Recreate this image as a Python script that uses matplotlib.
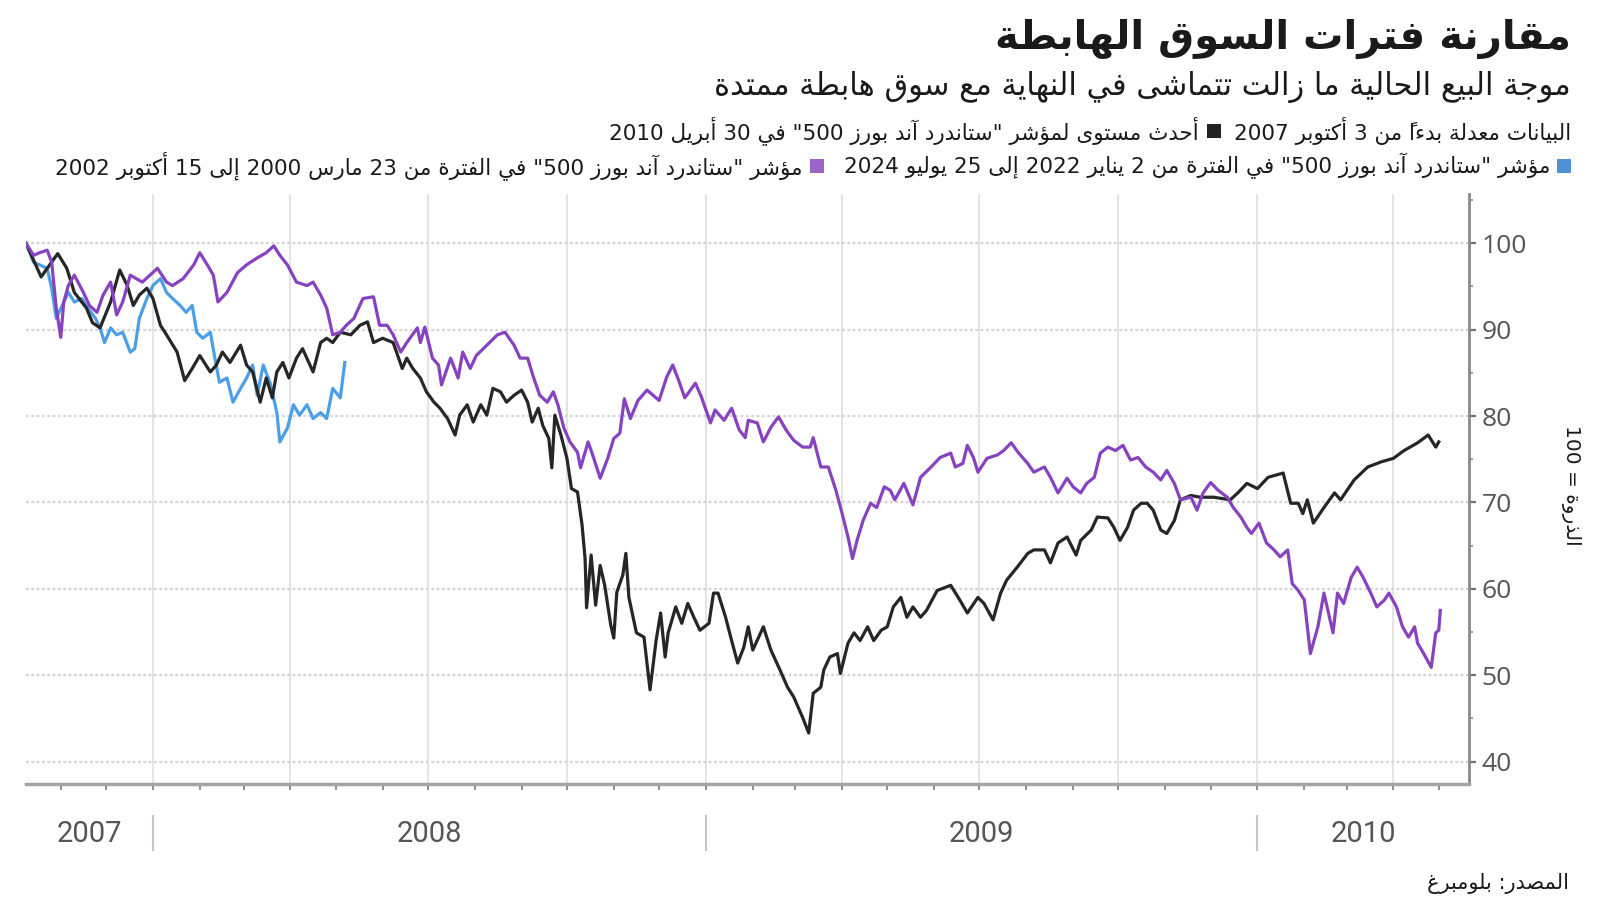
import re
import numpy as np
import matplotlib
matplotlib.use("Agg")
import matplotlib.pyplot as plt
import matplotlib.dates as mdates
from matplotlib.patches import Rectangle
from matplotlib.ticker import MultipleLocator, NullFormatter

# ---------------- data ----------------
peak_date = "2007-10-09"

black_days = [0,10,21,27,32,40,44,49,56,62,67,71,75,80,84,89,93,100,105,110,
              115,122,126,130,135,142,146,150,155,159,163,166,170,174,179,183,190,195,199,203,
              208,215,221,226,230,236,243,249,252,256,261,265,270,274,279,284,287,292,296,301,
              305,309,314,318,323,328,332,335,339,342,346,348,350,354,358,361,365,368,370,371,
              374,377,380,383,387,389,391,395,397,399,404,409,413,417,420,423,425,430,434,438,
              442,446,452,455,458,463,467,471,475,478,481,488,493,499,504,508,514,518,521,526,
              528,532,537,539,544,548,552,557,561,566,570,574,579,583,587,592,596,603,612,618,
              623,630,634,640,645,649,656,663,667,674,678,683,689,695,698,705,709,716,720,724,
              729,733,738,742,746,751,755,760,764,771,777,786,797,802,808,815,822,832,837,842,
              845,848,852,859,866,870,879,888,897,905,912,921,928,933,935]
black_vals = [100,96.1,98.8,97.1,94.3,92.5,90.8,90.2,93.2,96.9,95.1,92.8,94,94.8,93.6,90.5,89.4,87.4,84.1,85.5,
              87,85.1,85.9,87.4,86.2,88.2,85.9,85.1,81.6,84.4,82.1,85.1,86.2,84.4,86.7,87.8,85.1,88.5,89,88.5,
              89.7,89.4,90.5,90.9,88.5,89,88.5,85.5,86.7,85.5,84.4,82.8,81.6,80.9,79.7,77.8,80.1,81.3,79.3,81.3,
              80.1,83.2,82.8,81.6,82.4,83,81.6,79.3,80.9,78.9,77.4,74,80.1,77.8,75.1,71.6,71.2,67.4,63.5,57.8,
              63.9,58.1,62.7,60.4,55.8,54.3,59.6,61.6,64.1,59,54.9,54.4,48.3,54,57.2,52.1,54.9,57.9,56,58.3,
              56.7,55.2,56,59.5,59.5,56.7,54,51.4,53.2,55.6,52.9,55.6,52.9,50.6,48.6,47.5,45.1,43.3,47.9,48.6,
              50.6,52.1,52.5,50.2,53.7,54.9,54,55.6,54,55.2,55.6,57.9,59,56.7,57.9,56.7,57.5,59.8,60.4,58.7,
              57.2,59,58.3,56.4,59.5,61,62.5,64.1,64.5,64.5,63,65.3,66,63.9,65.6,66.8,68.3,68.2,67.1,65.6,
              67.1,69.1,69.9,69.9,69.1,66.8,66.4,67.9,70.3,70.8,70.6,70.6,70.3,71.1,72.2,71.6,72.9,73.4,69.9,69.9,
              68.7,70.3,67.6,69.4,71.1,70.3,72.6,74.1,74.7,75.1,76,76.9,77.8,76.4,77]

purple_days = [0,5,9,14,17,20,23,25,28,32,38,42,47,51,56,60,64,69,73,77,
               82,87,93,97,104,111,115,120,124,127,133,140,146,153,159,164,168,173,179,186,
               190,195,199,203,208,212,217,223,230,234,239,243,248,252,259,261,264,269,273,275,
               281,286,289,294,298,305,312,317,323,327,332,336,340,345,349,352,356,360,365,367,
               372,375,380,385,389,393,396,400,405,411,419,424,428,432,436,443,447,453,456,462,
               467,472,476,478,484,488,493,498,503,508,514,519,521,526,531,536,540,544,547,550,
               554,559,563,568,572,575,581,587,592,599,605,612,615,620,623,627,630,636,643,647,
               652,657,663,667,674,678,683,689,693,698,702,707,711,716,721,726,731,736,741,746,
               751,755,760,764,771,775,779,784,789,795,799,804,808,811,816,821,826,830,835,838,
               842,846,850,855,859,865,868,872,877,881,885,890,894,899,902,907,911,915,919,921,
               925,930,933,935,936]
purple_vals = [100,98.6,98.9,99.2,97.8,92.5,89.1,93.2,95.1,96.3,94.3,92.8,92,94,95.5,91.7,93.2,96.3,95.9,95.5,
               96.3,97.1,95.5,95.1,95.9,97.5,98.9,97.5,96.3,93.2,94.3,96.6,97.5,98.3,98.9,99.7,98.6,97.5,95.5,95.1,
               95.5,94,92.5,89.4,89.7,90.5,91.3,93.6,93.8,90.5,90.5,89.4,87.4,88.5,90.2,88.5,90.3,86.7,85.9,83.6,
               86.7,84.4,87.4,85.5,87,88.2,89.4,89.7,88.2,86.7,86.7,84.4,82.4,81.6,82.8,81.3,78.6,77,75.8,74,
               77,75.5,72.8,75.1,77.4,78,82,79.7,81.8,83,81.8,84.5,85.9,84.1,82.1,83.8,82.2,79.2,80.7,79.5,
               80.9,78.4,77.5,79.5,79.2,77,78.7,79.9,78.4,77.2,76.4,76.4,77.5,74.1,74.1,71.4,68.8,66,63.5,65.6,
               67.9,69.9,69.4,71.8,71.4,70.3,72.2,69.7,72.9,74.1,75.2,75.7,74.1,74.5,76.6,75.2,73.5,75.1,75.5,76,
               76.9,75.7,74.5,73.5,74.1,72.9,71.1,72.8,71.8,71.1,72.2,72.9,75.7,76.4,76,76.6,74.9,75.2,74.1,73.5,
               72.6,73.7,72.2,70.3,70.6,69.1,71.1,72.3,71.4,70.6,69.4,68.3,67.1,66.4,67.6,65.3,64.5,63.7,64.5,60.6,
               59.8,58.7,52.5,55.6,59.5,54.9,59.5,58.3,61.3,62.5,61.3,59.5,57.9,58.7,59.5,57.9,55.6,54.4,55.6,53.7,
               52.5,50.9,54.9,55.2,57.5]

blue_days = [0,5,9,14,17,20,24,28,32,37,41,46,49,52,56,60,64,69,72,75,
             80,84,89,93,97,102,106,110,113,117,122,125,128,133,137,142,146,150,153,157,
             162,166,168,173,177,181,186,190,195,199,203,208,211]
blue_vals = [100,97.8,97.5,97.1,94.8,91.3,92.8,94.3,93.2,93.6,92.5,91.3,90.2,88.5,90.2,89.4,89.7,87.4,87.8,91.3,
             93.6,95.1,95.9,94.3,93.6,92.8,92,92.8,89.7,89,89.7,86.7,83.9,84.4,81.6,83.2,84.4,85.9,82.4,85.9,
             83.6,80.4,77,78.6,81.3,80.1,81.3,79.7,80.4,79.7,83.2,82.1,86.2]

y_ticks = [40, 50, 60, 70, 80, 90, 100]
year_labels = ["2007", "2008", "2009", "2010"]

title = "مقارنة فترات السوق الهابطة"
subtitle = "موجة البيع الحالية ما زالت تتماشى في النهاية مع سوق هابطة ممتدة"
leg1_note = "البيانات معدلة بدءاً من 3 أكتوبر 2007"
leg_black = 'أحدث مستوى لمؤشر "ستاندرد آند بورز 500" في 30 أبريل 2010'
leg_blue = 'مؤشر "ستاندرد آند بورز 500" في الفترة من 2 يناير 2022 إلى 25 يوليو 2024'
leg_purple = 'مؤشر "ستاندرد آند بورز 500" في الفترة من 23 مارس 2000 إلى 15 أكتوبر 2002'
ylabel = "الذروة = 100"
source = "المصدر: بلومبرغ"

c_black, c_purple, c_blue = "#262626", "#8743bf", "#4c9fe6"
c_sq_black, c_sq_purple, c_sq_blue = "#222222", "#9a64c9", "#4f8fd8"

# ---------------- Arabic shaping (presentation forms + visual order) ----------------
DUAL = {"ئ": 0xFE89, "ب": 0xFE8F, "ت": 0xFE95, "ث": 0xFE99, "ج": 0xFE9D, "ح": 0xFEA1,
        "خ": 0xFEA5, "س": 0xFEB1, "ش": 0xFEB5, "ص": 0xFEB9, "ض": 0xFEBD, "ط": 0xFEC1,
        "ظ": 0xFEC5, "ع": 0xFEC9, "غ": 0xFECD, "ف": 0xFED1, "ق": 0xFED5, "ك": 0xFED9,
        "ل": 0xFEDD, "م": 0xFEE1, "ن": 0xFEE5, "ه": 0xFEE9, "ي": 0xFEF1}
RIGHT = {"آ": 0xFE81, "أ": 0xFE83, "ؤ": 0xFE85, "إ": 0xFE87, "ا": 0xFE8D, "ة": 0xFE93,
         "د": 0xFEA9, "ذ": 0xFEAB, "ر": 0xFEAD, "ز": 0xFEAF, "و": 0xFEED, "ى": 0xFEEF}
LAMALEF = {"آ": 0xFEF5, "أ": 0xFEF7, "إ": 0xFEF9, "ا": 0xFEFB}


def _jt(c):
    if c in DUAL:
        return "D"
    if c in RIGHT:
        return "R"
    if "\u064B" <= c <= "\u065F" or c == "\u0670":
        return "T"
    return "U"


def shape(s):
    out = []
    n = len(s)
    i = 0
    while i < n:
        c = s[i]
        t = _jt(c)
        if t in "DR":
            j = i - 1
            while j >= 0 and _jt(s[j]) == "T":
                j -= 1
            pj = j >= 0 and _jt(s[j]) == "D"
            k = i + 1
            while k < n and _jt(s[k]) == "T":
                k += 1
            if c == "ل" and k < n and s[k] in LAMALEF:
                out.append(chr(LAMALEF[s[k]] + (1 if pj else 0)))
                i = k + 1
                continue
            if t == "D":
                nj = k < n and _jt(s[k]) in "DR"
                off = 3 if (pj and nj) else (1 if pj else (2 if nj else 0))
                out.append(chr(DUAL[c] + off))
            else:
                out.append(chr(RIGHT[c] + (1 if pj else 0)))
        elif c == "ء":
            out.append("\uFE80")
        else:
            out.append(c)
        i += 1
    return "".join(out)


def ar(s):
    r = shape(s)[::-1]
    r = re.sub(r"[0-9]+", lambda m: m.group(0)[::-1], r)
    return r


# ---------------- figure ----------------
W, H = 1600, 901
fig = plt.figure(figsize=(W / 100, H / 100), dpi=100)
fig.patch.set_facecolor("white")
renderer = fig.canvas.get_renderer()


def fx(px):
    return px / W


def fy(py):
    return 1 - py / H


ax = fig.add_axes([fx(26), fy(784), (1469 - 26) / W, (784 - 194) / H])

t0 = np.datetime64(peak_date)


def to_dates(days):
    return t0 + np.asarray(days).astype("timedelta64[D]")


ax.plot(to_dates(blue_days), blue_vals, color=c_blue, lw=2.3, solid_joinstyle="round", zorder=3)
ax.plot(to_dates(black_days), black_vals, color=c_black, lw=2.3, solid_joinstyle="round", zorder=4)
ax.plot(to_dates(purple_days), purple_vals, color=c_purple, lw=2.3, solid_joinstyle="round", zorder=5)

x0, x1 = t0, np.datetime64("2010-05-21")
ax.set_xlim(x0, x1)
ax.set_ylim(37.4, 105.7)

for s in ["left", "top"]:
    ax.spines[s].set_visible(False)
ax.spines["right"].set_color("#8a8a8a")
ax.spines["right"].set_linewidth(2)
ax.spines["bottom"].set_color("#a5a5a5")
ax.spines["bottom"].set_linewidth(2.5)

ax.yaxis.tick_right()
ax.set_yticks(y_ticks)
ax.yaxis.set_minor_locator(MultipleLocator(5))
ax.tick_params(axis="y", which="major", direction="out", length=5, width=1.6,
               colors="#707070", labelcolor="#555555", labelsize=19, pad=4)
ax.tick_params(axis="y", which="minor", direction="out", length=3, width=1.2, colors="#8a8a8a")
for lab in ax.get_yticklabels():
    lab.set_fontfamily("Open Sans")

ax.xaxis.set_major_locator(mdates.MonthLocator(bymonth=[1, 4, 7, 10]))
ax.xaxis.set_minor_locator(mdates.MonthLocator())
ax.xaxis.set_major_formatter(NullFormatter())
ax.xaxis.set_minor_formatter(NullFormatter())
ax.tick_params(axis="x", which="both", direction="out", length=4, width=1.2, colors="#7a7a7a")

ax.grid(axis="x", which="major", color="#e4e4e4", lw=1.5)
ax.grid(axis="y", which="major", color="#d2d2d2", lw=1.6, ls=(0, (1.2, 1.2)))
ax.set_axisbelow(True)

# year labels and separators
trans = ax.get_xaxis_transform()
xl0, xl1 = ax.get_xlim()
for yl in year_labels:
    lo = max(mdates.date2num(np.datetime64(f"{yl}-01-01")), xl0)
    hi = min(mdates.date2num(np.datetime64(f"{int(yl) + 1}-01-01")), xl1)
    ax.text((lo + hi) / 2, -0.085, yl, transform=trans, ha="center", va="center",
            fontsize=21, color="#555555", family="Roboto")
    if int(yl) > int(year_labels[0]):
        xs = mdates.date2num(np.datetime64(f"{yl}-01-01"))
        ax.plot([xs, xs], [-0.054, -0.112], transform=trans, clip_on=False,
                color="#c4c4c4", lw=1.5)

# ---------------- texts ----------------
AR = "DejaVu Sans"
fig.text(fx(1571), fy(39), ar(title), ha="right", va="center", fontsize=29,
         fontweight="bold", color="#1a1a1a", family=AR)
fig.text(fx(1571), fy(87), ar(subtitle), ha="right", va="center", fontsize=22,
         color="#1a1a1a", family=AR)


def put_rtl(pieces, y_px, right_px, size):
    x = right_px
    for p in pieces:
        if p[0] == "sq":
            _, color, side, gap = p
            fig.add_artist(Rectangle((fx(x - side), fy(y_px + side / 2)), side / W, side / H,
                                     transform=fig.transFigure, color=color, lw=0))
            x -= side + gap
        else:
            _, s, gap = p
            t = fig.text(fx(x), fy(y_px), ar(s), ha="right", va="center", fontsize=size,
                         color="#1a1a1a", family=AR)
            bb = t.get_window_extent(renderer=renderer)
            x = bb.x0 - gap


put_rtl([("txt", leg1_note, 13), ("sq", c_sq_black, 14, 8), ("txt", leg_black, 0)],
        131, 1571, 15.5)
put_rtl([("sq", c_sq_blue, 14, 7), ("txt", leg_blue, 20), ("sq", c_sq_purple, 14, 7),
         ("txt", leg_purple, 0)], 166, 1571, 15.5)

fig.text(fx(1571), fy(485), ar(ylabel), rotation=-90, ha="center", va="center",
         fontsize=14.5, color="#1a1a1a", family=AR)
fig.text(fx(1569), fy(883), ar(source), ha="right", va="center", fontsize=15,
         color="#1a1a1a", family=AR)

fig.savefig("out.png", dpi=100, facecolor="white")
